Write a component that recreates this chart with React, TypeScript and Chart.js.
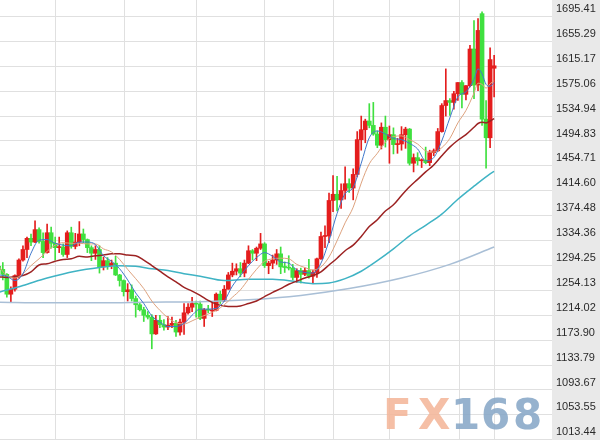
import React, { useEffect, useRef } from "react";
import { Chart, registerables } from "chart.js";

Chart.register(...registerables);

// Weekly candles, index 0 = week of 20 Nov 2017 ... index 123 = week of 30 Mar 2020
const opens = [
  1293, 1288, 1280, 1248, 1256, 1278, 1303, 1320, 1338, 1332, 1352, 1333, 1315, 1347, 1330, 1323, 1324, 1312, 1347, 1325,
  1332, 1345, 1336, 1323, 1314, 1320, 1292, 1302, 1294, 1298, 1279, 1270, 1252, 1255, 1241, 1231, 1223, 1214, 1211, 1184,
  1206, 1199, 1195, 1198, 1201, 1187, 1203, 1218, 1227, 1233, 1232, 1209, 1223, 1221, 1222, 1248, 1237, 1256, 1279, 1285,
  1289, 1282, 1298, 1318, 1314, 1322, 1329, 1294, 1298, 1303, 1313, 1292, 1291, 1290, 1275, 1286, 1280, 1286, 1277, 1283,
  1305, 1341, 1342, 1399, 1409, 1400, 1415, 1426, 1419, 1441, 1497, 1513, 1527, 1520, 1506, 1488, 1517, 1497, 1505, 1489,
  1490, 1505, 1514, 1459, 1468, 1463, 1464, 1460, 1476, 1479, 1510, 1552, 1560, 1557, 1571, 1589, 1570, 1584, 1643, 1585,
  1700, 1530, 1500, 1612,
];
const highs = [
  1299, 1299, 1281, 1260, 1279, 1305, 1326, 1340, 1345, 1366, 1355, 1347, 1361, 1356, 1340, 1340, 1329, 1350, 1356, 1346,
  1365, 1353, 1337, 1326, 1326, 1326, 1308, 1307, 1303, 1309, 1280, 1271, 1265, 1263, 1245, 1235, 1227, 1220, 1215, 1214,
  1214, 1207, 1212, 1211, 1206, 1208, 1233, 1233, 1243, 1237, 1237, 1225, 1230, 1236, 1250, 1253, 1262, 1283, 1298, 1297,
  1299, 1303, 1326, 1320, 1324, 1346, 1331, 1301, 1311, 1320, 1324, 1300, 1310, 1296, 1289, 1290, 1290, 1304, 1287, 1306,
  1348, 1358, 1411, 1439, 1438, 1426, 1453, 1434, 1450, 1510, 1535, 1530, 1555, 1557, 1511, 1524, 1535, 1519, 1516, 1499,
  1518, 1517, 1515, 1474, 1476, 1466, 1485, 1480, 1482, 1515, 1555, 1611, 1563, 1575, 1589, 1592, 1584, 1649, 1689, 1692,
  1703, 1560, 1645, 1633,
];
const lows = [
  1280, 1271, 1243, 1236, 1253, 1274, 1301, 1307, 1326, 1331, 1330, 1307, 1314, 1322, 1303, 1315, 1309, 1307, 1322, 1321,
  1326, 1331, 1315, 1302, 1304, 1282, 1287, 1288, 1289, 1278, 1261, 1245, 1237, 1237, 1211, 1221, 1204, 1208, 1160, 1183,
  1194, 1190, 1191, 1194, 1180, 1182, 1183, 1216, 1220, 1211, 1207, 1196, 1218, 1212, 1221, 1233, 1236, 1256, 1276, 1279,
  1276, 1276, 1297, 1303, 1302, 1320, 1291, 1281, 1289, 1296, 1281, 1283, 1287, 1271, 1267, 1266, 1278, 1274, 1266, 1275,
  1304, 1323, 1331, 1381, 1382, 1386, 1401, 1412, 1400, 1437, 1480, 1492, 1516, 1504, 1484, 1482, 1485, 1459, 1474, 1475,
  1480, 1483, 1456, 1445, 1456, 1452, 1458, 1455, 1471, 1478, 1509, 1535, 1536, 1546, 1560, 1548, 1561, 1582, 1563, 1576,
  1520, 1451, 1484, 1566,
];
const closes = [
  1288, 1280, 1248, 1256, 1278, 1303, 1320, 1338, 1332, 1352, 1333, 1315, 1347, 1330, 1323, 1324, 1312, 1347, 1325, 1332,
  1345, 1336, 1323, 1314, 1320, 1292, 1302, 1294, 1298, 1279, 1270, 1252, 1255, 1241, 1231, 1223, 1214, 1211, 1184, 1206,
  1199, 1195, 1198, 1201, 1187, 1203, 1218, 1227, 1233, 1232, 1209, 1223, 1222, 1222, 1248, 1237, 1256, 1279, 1285, 1289,
  1282, 1298, 1318, 1314, 1322, 1329, 1294, 1298, 1303, 1313, 1292, 1291, 1290, 1275, 1286, 1280, 1286, 1277, 1283, 1305,
  1341, 1342, 1399, 1409, 1400, 1415, 1426, 1419, 1441, 1497, 1513, 1527, 1520, 1506, 1488, 1517, 1497, 1505, 1489, 1490,
  1505, 1514, 1459, 1468, 1463, 1464, 1460, 1476, 1479, 1510, 1552, 1560, 1557, 1571, 1589, 1570, 1584, 1643, 1585, 1673,
  1530, 1500, 1626, 1616,
];

// Moving-average lines read at these week positions
const maWeeks = [
  0, 2, 4, 6, 8, 10, 12, 14, 16, 18, 20, 22, 24, 26, 28, 30, 32, 34, 36, 38,
  40, 42, 44, 46, 48, 50, 52, 54, 56, 58, 60, 62, 64, 66, 68, 70, 72, 74, 76, 78,
  80, 82, 84, 86, 88, 90, 92, 94, 96, 98, 100, 102, 104, 106, 108, 110, 112, 114, 116, 118,
  119, 120, 121, 122, 123,
];
const ma5 = [
  1279, 1277, 1270, 1281, 1314, 1335, 1336, 1330, 1327, 1326, 1332, 1332, 1328, 1310, 1301, 1289, 1271, 1250, 1233, 1213,
  1203, 1196, 1196, 1201, 1214, 1224, 1224, 1225, 1237, 1261, 1278, 1294, 1307, 1315, 1309, 1300, 1298, 1287, 1283, 1282,
  1298, 1334, 1378, 1410, 1420, 1459, 1500, 1511, 1506, 1499, 1497, 1491, 1482, 1463, 1468, 1495, 1532, 1566, 1574, 1594,
  1611, 1603, 1586, 1583, 1589,
];
const ma10 = [
  1293, 1278, 1274, 1281, 1294, 1305, 1317, 1327, 1331, 1330, 1330, 1329, 1329, 1321, 1316, 1304, 1288, 1273, 1257, 1237,
  1222, 1210, 1202, 1200, 1205, 1211, 1216, 1222, 1231, 1243, 1255, 1272, 1288, 1301, 1305, 1306, 1305, 1296, 1291, 1287,
  1292, 1308, 1334, 1363, 1388, 1427, 1458, 1475, 1493, 1502, 1503, 1497, 1490, 1479, 1477, 1484, 1499, 1524, 1544, 1572,
  1588, 1586, 1580, 1587, 1592,
];
const ma30 = [
  1276, 1275, 1276, 1278, 1284, 1295, 1297, 1301, 1304, 1305, 1309, 1308, 1310, 1311, 1313, 1313, 1311, 1310, 1303, 1294,
  1285, 1276, 1268, 1259, 1253, 1246, 1238, 1232, 1229, 1228, 1229, 1233, 1237, 1244, 1251, 1257, 1264, 1269, 1274, 1278,
  1284, 1295, 1306, 1318, 1327, 1341, 1357, 1368, 1382, 1392, 1407, 1421, 1433, 1445, 1456, 1471, 1485, 1496, 1505, 1517,
  1523, 1525, 1524, 1527, 1531,
];
const ma60Weeks = [0, 6, 12, 19, 25, 30, 34, 38, 42, 46, 50, 56, 62, 68, 74, 78, 82, 86, 90, 94, 98, 102, 106, 110, 114, 118, 122, 123];
const ma60 = [1251, 1262, 1274, 1285, 1291, 1294, 1293, 1289, 1286, 1281, 1277, 1270, 1272, 1272, 1268, 1265, 1266, 1273, 1285, 1302, 1321, 1342, 1359, 1377, 1401, 1422, 1442, 1446];
const maLongWeeks = [0, 12, 25, 37, 50, 62, 75, 87, 100, 112, 123];
const maLong = [1235, 1234, 1234, 1235, 1236, 1239, 1246, 1257, 1274, 1296, 1324];

// Axis ticks
const yTickLabels = [
  "1013.44", "1053.55", "1093.67", "1133.79", "1173.90", "1214.02", "1254.13", "1294.25", "1334.36",
  "1374.48", "1414.60", "1454.71", "1494.83", "1534.94", "1575.06", "1615.17", "1655.29", "1695.41",
];
const xGridWeeks = [13.96, 31.1, 49.2, 66.1, 83.0, 97.1, 114.5, 123.2];

const Y_MIN = 1013.06;
const Y_MAX = 1722.0;
const X_MIN = 0.3;
const X_MAX = 137.37;

const RED = "#e41d1d";
const GREEN = "#3fe03f";

export default function App() {
  const ref = useRef<HTMLCanvasElement | null>(null);

  useEffect(() => {
    const canvas = ref.current;
    if (!canvas) return;

    const idx = closes.map((_, i) => i);
    const colors = idx.map((i) => (closes[i] >= opens[i] ? RED : GREEN));
    const wickData = idx.map((i) => ({ x: i, y: [lows[i], highs[i]] }));
    const bodyData = idx.map((i) => ({ x: i, y: [opens[i], closes[i]] }));
    const pts = (ws: number[], vs: number[]) => ws.map((w, i) => ({ x: w, y: vs[i] }));

    const lineBase = {
      type: "line" as const,
      pointRadius: 0,
      fill: false,
      cubicInterpolationMode: "monotone" as const,
    };

    const bgPlugin = {
      id: "bg",
      beforeDraw(chart: any) {
        const { ctx } = chart;
        const ys = chart.scales.y;
        ctx.save();
        ctx.fillStyle = "#ffffff";
        ctx.fillRect(0, 0, chart.width, chart.height);
        ctx.fillStyle = "#e9e9e9";
        ctx.fillRect(ys.left, 0, chart.width - ys.left, chart.height);
        ctx.restore();
      },
    };

    const watermark = {
      id: "wm",
      afterDraw(chart: any) {
        const { ctx } = chart;
        ctx.save();
        ctx.font = "bold 42px 'DejaVu Sans', sans-serif";
        ctx.textBaseline = "alphabetic";
        ctx.globalAlpha = 0.85;
        ctx.fillStyle = "#f3b497";
        ctx.fillText("F", 383, 429);
        ctx.fillText("X", 418, 429);
        ctx.fillStyle = "#84a5c5";
        ctx.fillText("1", 451, 429);
        ctx.fillText("6", 481, 429);
        ctx.fillText("8", 513, 429);
        ctx.restore();
      },
    };

    const chart = new Chart(canvas, {
      type: "bar",
      data: {
        datasets: [
          { ...lineBase, data: pts(maWeeks, ma5), borderColor: "#3f78cc", borderWidth: 1, order: 0 },
          { ...lineBase, data: pts(maWeeks, ma10), borderColor: "#dea27e", borderWidth: 1, order: 0 },
          { ...lineBase, data: pts(maWeeks, ma30), borderColor: "#9c2222", borderWidth: 1.5, order: 0 },
          { ...lineBase, data: pts(ma60Weeks, ma60), borderColor: "#3fb3c4", borderWidth: 1.5, order: 0 },
          { ...lineBase, data: pts(maLongWeeks, maLong), borderColor: "#a9bfd6", borderWidth: 1.5, order: 0 },
          {
            type: "bar",
            data: bodyData as any,
            backgroundColor: colors,
            barThickness: 4,
            grouped: false,
            minBarLength: 1,
            borderWidth: 0,
            order: 1,
          },
          {
            type: "bar",
            data: wickData as any,
            backgroundColor: colors,
            barThickness: 1,
            grouped: false,
            borderWidth: 0,
            order: 2,
          },
        ] as any,
      },
      options: {
        responsive: false,
        animation: false,
        devicePixelRatio: 1,
        events: [],
        layout: { padding: 0 },
        plugins: { legend: { display: false }, tooltip: { enabled: false } },
        scales: {
          x: {
            type: "linear",
            min: X_MIN,
            max: X_MAX,
            offset: false,
            afterBuildTicks: (s: any) => {
              s.ticks = xGridWeeks.map((v) => ({ value: v }));
            },
            afterFit: (s: any) => {
              s.height = 0;
              s.paddingLeft = 0;
              s.paddingRight = 0;
            },
            ticks: { display: false },
            grid: { color: "#e0e0e0", lineWidth: 1, drawTicks: false, offset: false },
            border: { display: false },
          },
          y: {
            type: "linear",
            position: "right",
            min: Y_MIN,
            max: Y_MAX,
            afterBuildTicks: (s: any) => {
              s.ticks = yTickLabels.map((l) => ({ value: parseFloat(l) }));
            },
            afterFit: (s: any) => {
              s.width = 48;
              s.paddingTop = 0;
              s.paddingBottom = 0;
            },
            ticks: {
              callback: (v: any) => Number(v).toFixed(2),
              font: { family: "'Liberation Sans', Arial, sans-serif", size: 11 },
              color: "#2a2a2a",
              padding: 4,
              labelOffset: -7.5,
            },
            grid: { color: "#e0e0e0", lineWidth: 1, drawTicks: false },
            border: { display: false },
          },
        },
      } as any,
      plugins: [bgPlugin, watermark],
    });

    return () => chart.destroy();
  }, []);

  return (
    <div style={{ position: "fixed", left: 0, top: 0, width: 600, height: 440, background: "#fff" }}>
      <canvas ref={ref} width={600} height={440} style={{ display: "block" }} />
    </div>
  );
}
